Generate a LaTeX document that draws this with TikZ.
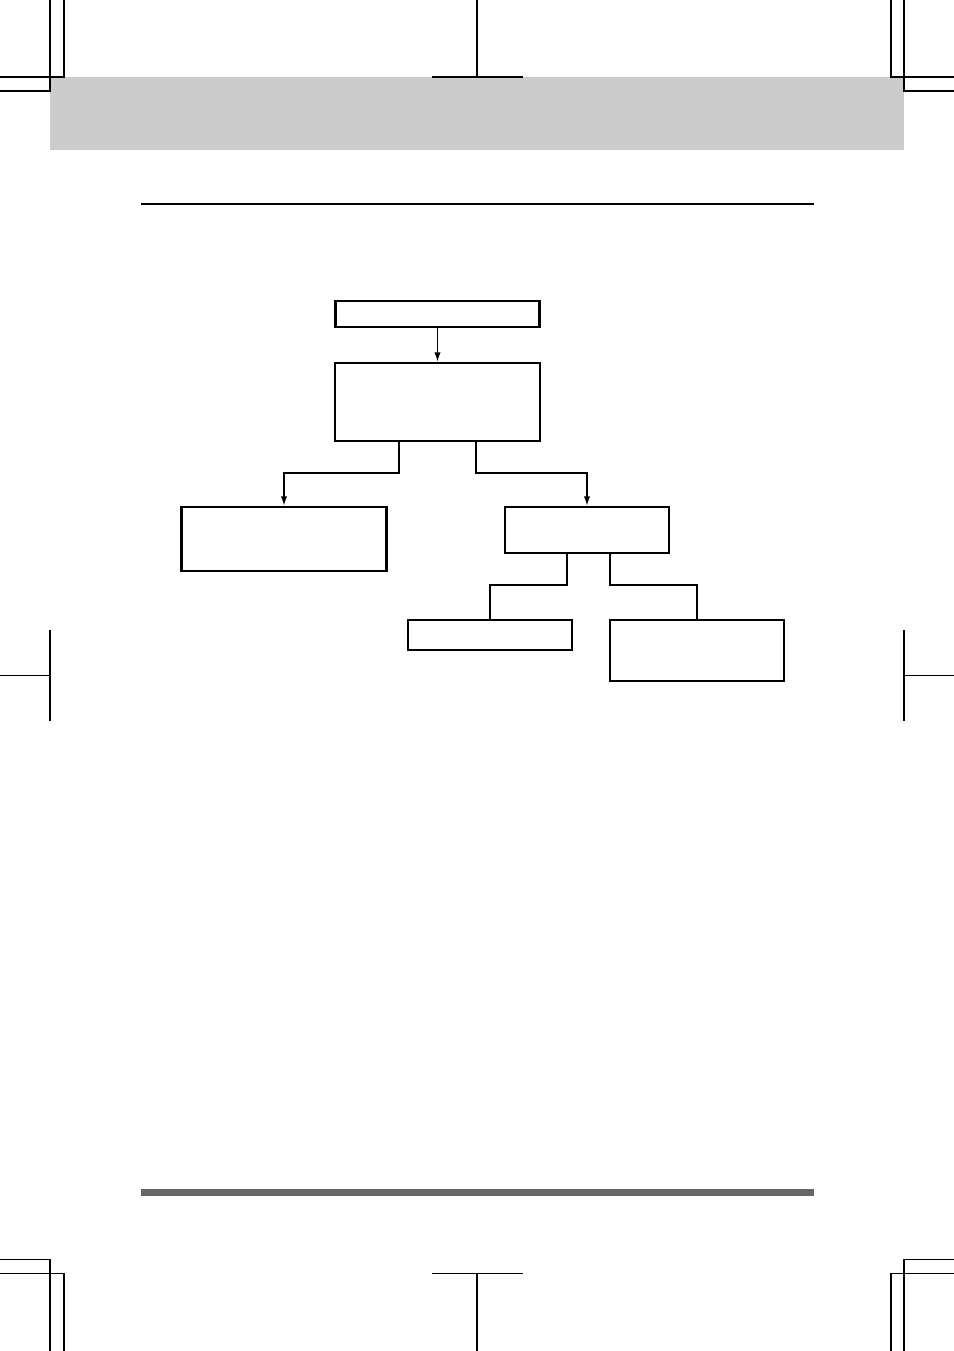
\documentclass[tikz,border=0pt]{standalone}
\usetikzlibrary{arrows.meta}

\tikzset{
  box/.style 2 args={draw,line width=0.9pt,inner sep=0pt,
    minimum width=#1*0.155mm,minimum height=#2*0.155mm},
  link/.style={line width=0.6pt},
  flow/.style={line width=0.8pt,-{Latex[length=1.5mm,width=1mm]}},
  crop/.style={line width=0.45pt}
}

\begin{document}
\begin{tikzpicture}[x=0.155mm,y=-0.155mm]
  \useasboundingbox (0,0) rectangle (954,1351);
  % page furniture
  \fill[black!20] (50,77) rectangle (904,150);
  \draw[line width=0.45pt] (141,204) -- (814,204);
  \fill[black!60] (141,1189) rectangle (814,1196);
  \draw[crop] (50,0) -- (50,91) -- (0,91)  (64,0) -- (64,77) -- (0,77)
    (477,0) -- (477,77)  (432,77) -- (523,77)
    (891,0) -- (891,77) -- (954,77)  (904,0) -- (904,91) -- (954,91);
  \draw[crop] (50,630) -- (50,721)  (0,675) -- (50,675)
    (904,630) -- (904,721)  (904,675) -- (954,675);
  \draw[crop] (0,1259) -- (50,1259) -- (50,1351)  (0,1273) -- (64,1273) -- (64,1351)
    (432,1273) -- (523,1273)  (477,1273) -- (477,1351)
    (954,1259) -- (904,1259) -- (904,1351)  (954,1273) -- (891,1273) -- (891,1351);

  % boxes
  \node[box={204}{26}] (start) at (437.5,314) {};
  \node[box={205}{78}] (check) at (437.5,402) {};
  \node[box={205}{64}] (left) at (284,539) {};
  \node[box={164}{46}] (right) at (587,530) {};
  \node[box={164}{30}] (low) at (490,635) {};
  \node[box={174}{61}] (high) at (697,650.5) {};

  % connectors
  \draw[flow] (start) -- (check);
  \draw[flow] ([xshift=-5.97mm]check.south) -- ++(0,31) -| (left.north);
  \draw[flow] ([xshift=5.97mm]check.south) -- ++(0,31) -| (right.north);
  \draw[link] ([xshift=-3.1mm]right.south) -- ++(0,31) -| (low.north);
  \draw[link] ([xshift=3.57mm]right.south) -- ++(0,31) -| (high.north);
\end{tikzpicture}
\end{document}
